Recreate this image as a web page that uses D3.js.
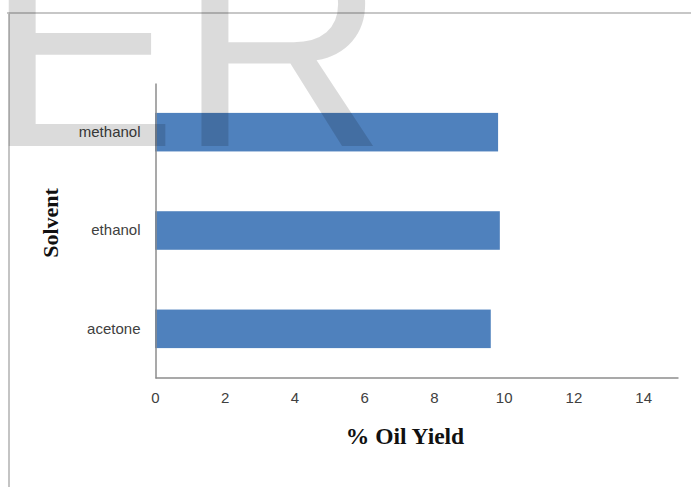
<!DOCTYPE html>
<html>
<head>
<meta charset="utf-8">
<script src="https://cdn.jsdelivr.net/npm/d3@7"></script>
<style>
  html, body { margin: 0; padding: 0; background: #fff; }
  svg { display: block; }
</style>
</head>
<body>
<div id="chart"></div>
<script>
// Oil yield by extraction solvent
const solvents = ["methanol", "ethanol", "acetone"];
const oilYield = [9.84, 9.89, 9.63];
const xTicks = [0, 2, 4, 6, 8, 10, 12, 14];
const xMax = 15;
const xTitle = "% Oil Yield";
const yTitle = "Solvent";
const stampText = "ER";

const W = 691, H = 487;
const plot = { left: 155, right: 678, top: 83, bottom: 378 };

const svg = d3.select("#chart").append("svg")
  .attr("width", W).attr("height", H);

// outer frame (top and left edges)
svg.append("line")
  .attr("x1", 7).attr("x2", W).attr("y1", 13).attr("y2", 13)
  .attr("stroke", "#b4b4b4").attr("stroke-width", 1.5);
svg.append("line")
  .attr("x1", 9).attr("x2", 9).attr("y1", 13).attr("y2", H)
  .attr("stroke", "#c4c4c4").attr("stroke-width", 2);

const x = d3.scaleLinear().domain([0, xMax]).range([plot.left, plot.right]);
const y = d3.scaleBand().domain(solvents)
  .range([plot.top, plot.bottom])
  .paddingInner(0.608).paddingOuter(0.304);

// bars
svg.append("g").selectAll("rect")
  .data(solvents.map((s, i) => ({ s, v: oilYield[i] })))
  .join("rect")
  .attr("x", x(0))
  .attr("y", d => y(d.s))
  .attr("width", d => x(d.v) - x(0))
  .attr("height", y.bandwidth())
  .attr("fill", "#4f81bd");

// x axis
const xAxis = svg.append("g")
  .attr("transform", `translate(0,${plot.bottom - 0.5})`)
  .call(d3.axisBottom(x).tickValues(xTicks).tickSize(0).tickSizeOuter(0).tickPadding(15));

// y axis
const yAxis = svg.append("g")
  .attr("transform", `translate(${plot.left + 0.5},0)`)
  .call(d3.axisLeft(y).tickSize(0).tickSizeOuter(0).tickPadding(15));

[xAxis, yAxis].forEach(g => {
  g.select(".domain").attr("stroke", "#8c8c8c").attr("stroke-width", 1.5);
  g.selectAll("text")
    .attr("font-family", "Liberation Sans, Arial, sans-serif")
    .attr("font-size", 15)
    .attr("fill", "#404040");
});

// axis titles
svg.append("text")
  .attr("x", 405).attr("y", 444)
  .attr("text-anchor", "middle")
  .attr("font-family", "Liberation Serif, Times New Roman, serif")
  .attr("font-weight", "bold")
  .attr("font-size", 23.5)
  .attr("fill", "#111")
  .text(xTitle);

svg.append("text")
  .attr("transform", "translate(58,223) rotate(-90)")
  .attr("text-anchor", "middle")
  .attr("font-family", "Liberation Serif, Times New Roman, serif")
  .attr("font-weight", "bold")
  .attr("font-size", 22)
  .attr("fill", "#111")
  .text(yTitle);

// translucent stamp lettering across the top-left
svg.append("text")
  .attr("x", -15).attr("y", 146)
  .attr("font-family", "Liberation Sans, Arial, sans-serif")
  .attr("font-size", 289)
  .attr("fill", "#000")
  .attr("fill-opacity", 0.14)
  .text(stampText);
</script>
</body>
</html>
